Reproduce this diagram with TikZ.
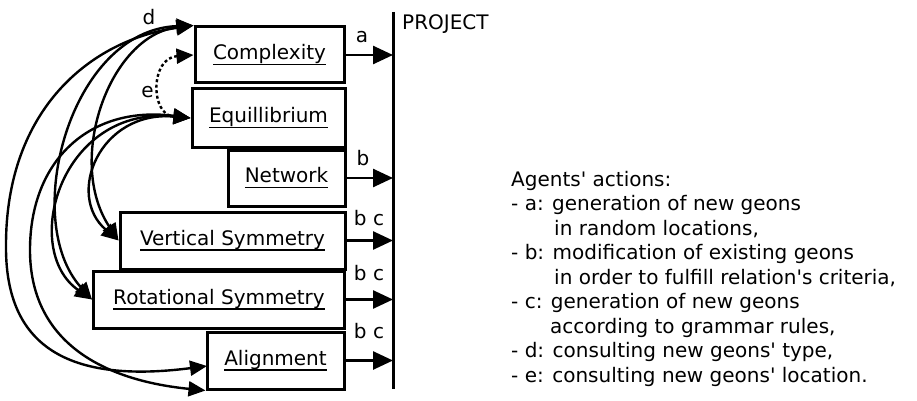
\documentclass[tikz,border=0pt]{standalone}
\usepackage{fontspec}
\setmainfont{DejaVu Sans}
\usetikzlibrary{arrows.meta}

% underline at a fixed depth below the baseline
\newsavebox\ulsave
\newcommand\ulbox[1]{\sbox\ulsave{#1}\rlap{\rule[-5.5pt]{\wd\ulsave}{1.8pt}}\usebox\ulsave}
\newcommand\apos{\textquotesingle}

\begin{document}
\begin{tikzpicture}[x=1pt,y=-1pt,
  every node/.style={font=\fontsize{20}{24.5}\selectfont, inner sep=0pt},
  agent/.style={draw, rectangle, line width=3pt},
  feed/.style={line width=2.6pt, -{Triangle[length=20pt,width=18pt]}},
  consult/.style={line width=2.4pt,
    {Triangle[length=17pt,width=15pt]}-{Triangle[length=17pt,width=15pt]}},
  locdash/.style={consult, dash pattern=on 3pt off 2.5pt},
]
\useasboundingbox (0,0) rectangle (917,401);

% agents
\node[agent, minimum width=149pt, minimum height=56pt] (cx) at (269.5,55)  {\ulbox{Complexity}};
\node[agent, minimum width=153pt, minimum height=58pt] (eq) at (268.5,118) {\ulbox{Equillibrium}};
\node[agent, minimum width=117pt, minimum height=56pt] (nw) at (286.5,178) {\ulbox{Network}};
\node[agent, minimum width=225pt, minimum height=57pt] (vs) at (232.5,240.5) {\ulbox{Vertical Symmetry}};
\node[agent, minimum width=251pt, minimum height=57pt] (rs) at (219,299.5) {\ulbox{Rotational Symmetry}};
\node[agent, minimum width=137pt, minimum height=57pt] (al) at (275.5,360.5) {\ulbox{Alignment}};

% the project
\coordinate (ptop) at (393,12);
\coordinate (pbot) at (393,389);
\draw[line width=3pt] (ptop) -- (pbot);
\node[anchor=base west] (plbl) at (402,30) {PROJECT};

% actions on the project
\draw[feed] (cx.east) -- (cx.east -| ptop);
\draw[feed] (nw.east) -- (nw.east -| ptop);
\draw[feed] (vs.east) -- (vs.east -| ptop);
\draw[feed] (rs.east) -- (rs.east -| ptop);
\draw[feed] (al.east) -- (al.east -| ptop);
\node[anchor=base] (la)  at (362,43)  {a};
\node[anchor=base] (lb)  at (363,165) {b};
\node[anchor=base] (lbc1) at (369,225) {b c};
\node[anchor=base] (lbc2) at (369,280) {b c};
\node[anchor=base] (lbc3) at (369,338) {b c};

% consultations between agents
\coordinate (alup) at (207,366);
\draw[locdash] (cx.west) .. controls (150,58) and (150,115) .. (eq.west);
\draw[consult] (cx.north west) .. controls (110,35) and (65,160) .. (vs.west);
\draw[consult] (eq.west) .. controls (100,110) and (65,195) .. (vs.west);
\draw[consult] (cx.north west) .. controls (70,30) and (20,220) .. (rs.west);
\draw[consult] (eq.west) .. controls (60,105) and (20,250) .. (rs.west);
\draw[consult] (cx.north west) .. controls (90,40) and (6,110) .. (6,245)
  .. controls (5,340) and (60,385) .. (alup);
\draw[consult] (eq.west) .. controls (90,105) and (30,160) .. (30,250)
  .. controls (30,340) and (100,380) .. (al.south west);
\node[anchor=base] (ld) at (149,25) {d};
\node[anchor=base] (le) at (147.5,98) {e};

% legend
\node[anchor=base west] (legend) at (511,186) {\begin{tabular}[t]{@{}l@{}}
Agents\apos{} actions:\\
- a: generation of new geons\\
\hspace*{43pt}in random locations,\\
- b: modification of existing geons\\
\hspace*{43pt}in order to fulfill relation\apos{}s criteria,\\
- c: generation of new geons\\
\hspace*{39pt}according to grammar rules,\\
- d: consulting new geons\apos{} type,\\
- e: consulting new geons\apos{} location.
\end{tabular}};
\end{tikzpicture}
\end{document}
